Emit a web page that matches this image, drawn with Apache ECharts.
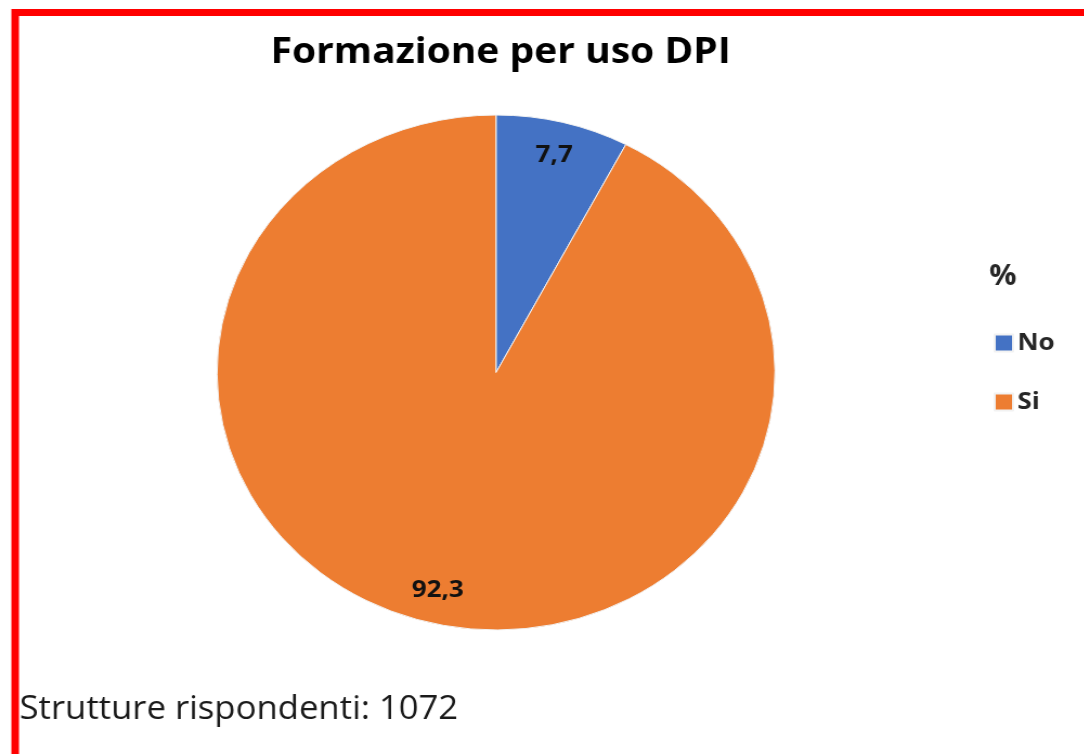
<!DOCTYPE html>
<html><head><meta charset="utf-8">
<script src="https://cdn.jsdelivr.net/npm/echarts@6/dist/echarts.min.js"></script>
<style>
html,body{margin:0;padding:0;background:#fff;overflow:hidden;}
#wrap{width:1084px;height:754px;overflow:hidden;position:relative;}
#c{width:1001px;height:754px;transform:scaleX(1.0835);transform-origin:0 0;}
</style></head>
<body><div id="wrap"><div id="c"></div></div>
<script>
const categories = ['No', 'Si'];
const values = [7.7, 92.3];
const labels = ['7,7', '92,3'];
const colors = ['#4472C4', '#ED7D31'];
const titleText = 'Formazione per uso DPI';
const legendTitle = '%';
const footText = 'Strutture rispondenti: 1072';

const data = categories.map((c, i) => ({ name: c, value: values[i], itemStyle: { color: colors[i] } }));
const font = '"Open Sans", "Noto Sans", sans-serif';
const chart = echarts.init(document.getElementById('c'), null, { renderer: 'canvas' });
chart.setOption({
  animation: false,
  title: [
    { text: titleText, left: 457, top: 30, textAlign: 'center',
      textStyle: { fontFamily: font, fontSize: 36, fontWeight: 'bold', color: '#000' } },
    { text: legendTitle, left: 908, top: 258,
      textStyle: { fontFamily: font, fontSize: 28, fontWeight: 'bold', color: '#262626' } },
    { text: footText, left: 13, top: 689,
      textStyle: { fontFamily: font, fontSize: 32, fontWeight: 'normal', color: '#1a1a1a' } }
  ],
  legend: {
    data: categories, orient: 'vertical', left: 912, top: 326,
    itemWidth: 17, itemHeight: 17, itemGap: 35, icon: 'rect',
    textStyle: { fontFamily: font, fontSize: 24, fontWeight: 'bold', color: '#262626', lineHeight: 20, padding: [0,0,0,-1] }
  },
  graphic: [
    { type: 'rect', shape: { x: 14, y: 12.5, width: 1200, height: 900 },
      style: { fill: 'none', stroke: '#FF0000', lineWidth: 7 }, silent: true, z: 100 }
  ],
  series: [
    { type: 'pie', center: [457.8, 372.5], radius: [0, 257.5], startAngle: 90, clockwise: true,
      data: data, label: { show: false }, labelLine: { show: false },
      itemStyle: { borderColor: '#f2f2f2', borderWidth: 1 } },
    { type: 'pie', center: [457.8, 372.5], radius: [185, 257.5], startAngle: 90, clockwise: true,
      silent: true, legendHoverLink: false,
      data: categories.map((c, i) => ({ name: c, value: values[i], itemStyle: { color: 'rgba(0,0,0,0)' } })),
      label: { show: true, position: 'inside', formatter: p => labels[p.dataIndex],
        fontFamily: font, fontSize: 24, fontWeight: 'bold', color: '#111' },
      labelLine: { show: false }, itemStyle: { borderWidth: 0 } }
  ]
});
</script></body></html>
